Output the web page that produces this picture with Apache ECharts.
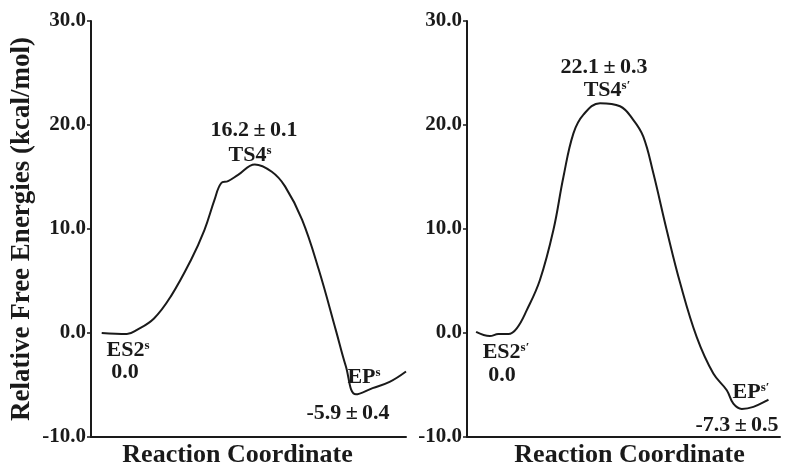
<!DOCTYPE html>
<html>
<head>
<meta charset="utf-8">
<script src="https://cdn.jsdelivr.net/npm/echarts@6/dist/echarts.min.js"></script>
<style>html,body{margin:0;padding:0;background:#fff}#c{width:785px;height:468px}</style>
</head>
<body>
<div id="c"></div>
<script>
// Reaction coordinate (0-100) and relative free energies (kcal/mol)
const leftX  = [3.4, 11.4, 14.6, 20.0, 25.3, 31.7, 36.0, 39.2, 41.3, 43.5, 46.7, 52.0, 57.4, 61.6, 67.0, 72.3, 77.7, 80.9, 84.1, 89.4, 94.8, 100];
const leftY  = [0.0, -0.1, 0.3, 1.4, 3.5, 7.0, 9.9, 12.8, 14.4, 14.6, 15.2, 16.2, 15.5, 14.1, 10.9, 6.1, 0.3, -3.2, -5.9, -5.3, -4.7, -3.7];
const rightX = [2.9, 7.3, 10.0, 13.2, 15.9, 19.1, 23.3, 27.6, 30.8, 34.0, 37.2, 42.5, 48.9, 53.1, 56.3, 59.5, 63.8, 68.1, 73.4, 78.7, 83.0, 85.1, 87.8, 91.5, 96.3];
const rightY = [0.1, -0.3, -0.1, -0.1, 0.45, 2.2, 5.1, 9.9, 15.0, 19.2, 21.0, 22.1, 21.8, 20.5, 18.9, 15.4, 9.9, 4.8, -0.4, -3.9, -5.5, -6.8, -7.3, -7.1, -6.4];
const yMin = -10, yMax = 30, yStep = 10;
const xTitle = 'Reaction Coordinate';
const yTitle = 'Relative Free Energies (kcal/mol)';

const FONT = '"Liberation Serif", "Times New Roman", serif';
const INK = '#1a1a1a';

function pairs(xs, ys) { return xs.map((x, i) => [x, ys[i]]); }

function yAxis(idx, withName) {
  return {
    type: 'value', gridIndex: idx, min: yMin, max: yMax, interval: yStep,
    name: withName ? yTitle : '', nameLocation: 'middle', nameRotate: 90, nameGap: 55,
    nameTextStyle: { fontFamily: FONT, fontWeight: 'bold', fontSize: 27, color: INK },
    axisLine: { show: true, onZero: false, lineStyle: { color: INK, width: 2 } },
    axisTick: { show: true, length: 4, lineStyle: { color: INK, width: 1.5 } },
    axisLabel: { formatter: v => v.toFixed(1), fontFamily: FONT, fontWeight: 'bold', fontSize: 21, color: INK, margin: 5 },
    splitLine: { show: false }
  };
}
function xAxis(idx, pad) {
  return {
    type: 'value', gridIndex: idx, min: 0, max: 100,
    name: xTitle, nameLocation: 'middle', nameGap: 5,
    nameTextStyle: { fontFamily: FONT, fontWeight: 'bold', fontSize: 26, color: INK, verticalAlign: 'top', padding: pad },
    axisLine: { show: true, onZero: false, lineStyle: { color: INK, width: 2 } },
    axisTick: { show: false }, axisLabel: { show: false }, splitLine: { show: false }
  };
}

const rich = {
  a: { fontFamily: FONT, fontWeight: 'bold', fontSize: 22, fill: INK, color: INK },
  s: { fontFamily: FONT, fontWeight: 'bold', fontSize: 13, fill: INK, color: INK, verticalAlign: 'top' }
};
function label(text, x, y) {
  return {
    type: 'text', x: x, y: y,
    style: { text: text, rich: rich, align: 'center', verticalAlign: 'middle', textAlign: 'center', textVerticalAlign: 'middle', fill: INK }
  };
}

const chart = echarts.init(document.getElementById('c'), null, { renderer: 'canvas' });
chart.setOption({
  animation: false,
  backgroundColor: '#fff',
  grid: [
    { left: 91, right: 379, top: 21, bottom: 31, containLabel: false, outerBoundsMode: 'none' },
    { left: 467, right: 5, top: 21, bottom: 31, containLabel: false, outerBoundsMode: 'none' }
  ],
  xAxis: [xAxis(0, [0, 22, 0, 0]), xAxis(1, [0, 0, 0, 12])],
  yAxis: [yAxis(0, true), yAxis(1, false)],
  series: [
    { type: 'line', xAxisIndex: 0, yAxisIndex: 0, data: pairs(leftX, leftY), smooth: 0.4, showSymbol: false, lineStyle: { color: INK, width: 2 } },
    { type: 'line', xAxisIndex: 1, yAxisIndex: 1, data: pairs(rightX, rightY), smooth: 0.4, showSymbol: false, lineStyle: { color: INK, width: 2 } }
  ],
  graphic: [
    label('{a|16.2\u2009±\u20090.1}', 254, 130),
    label('{a|TS4}{s|s}', 250, 155),
    label('{a|ES2}{s|s}', 128, 350),
    label('{a|0.0}', 125, 372),
    label('{a|EP}{s|s}', 364, 377),
    label('{a|-5.9\u2009±\u20090.4}', 348, 413),
    label('{a|22.1\u2009±\u20090.3}', 604, 67),
    label('{a|TS4}{s|s′}', 607, 90),
    label('{a|ES2}{s|s′}', 506, 352),
    label('{a|0.0}', 502, 375),
    label('{a|EP}{s|s′}', 751, 392),
    label('{a|-7.3\u2009±\u20090.5}', 737, 425)
  ]
});
</script>
</body>
</html>
